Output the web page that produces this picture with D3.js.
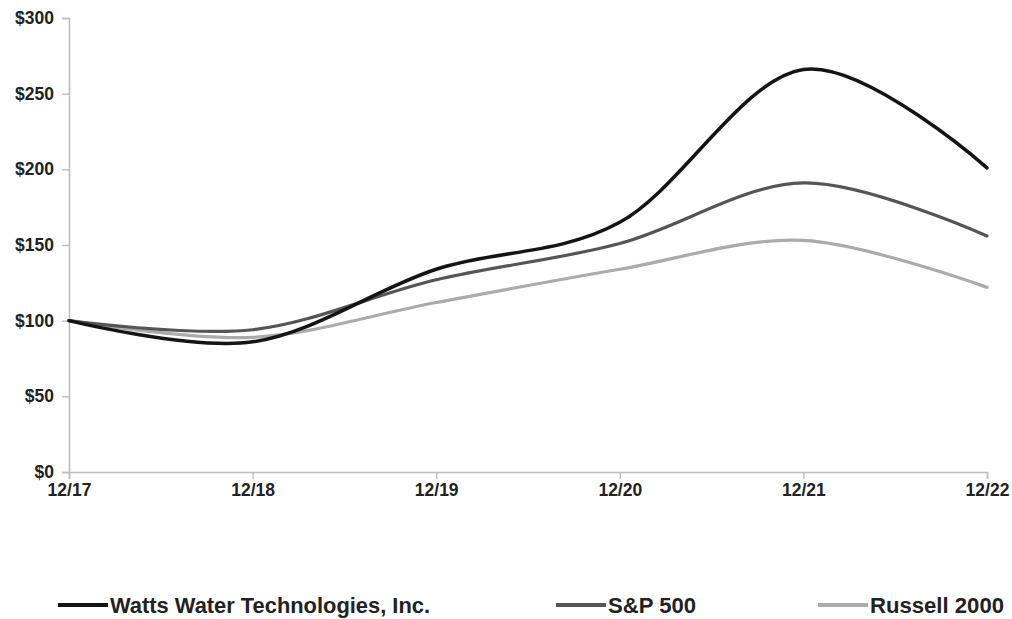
<!DOCTYPE html>
<html>
<head>
<meta charset="utf-8">
<script src="https://cdn.jsdelivr.net/npm/d3@7"></script>
<style>
  body { margin: 0; background: #fff; }
  svg text { font-family: "Liberation Sans", Arial, sans-serif; font-weight: bold; fill: #222; }
</style>
</head>
<body>
<svg id="chart" width="1012" height="619"></svg>
<script>
// values
var years = ["12/17", "12/18", "12/19", "12/20", "12/21", "12/22"];
var watts = [100, 86, 134, 165, 266, 201];
var sp500 = [100, 94, 127, 151, 191, 156];
var russell = [100, 89, 112, 134, 153, 122];
var yTicks = [0, 50, 100, 150, 200, 250, 300];

var seriesNames = ["Watts Water Technologies, Inc.", "S&P 500", "Russell 2000"];
var seriesColors = ["#141414", "#555555", "#ababab"];
var seriesWidths = [3.5, 3.2, 3.2];
var allSeries = [watts, sp500, russell];

var svg = d3.select("#chart");

var x = d3.scalePoint().domain(years).range([69, 987]);
var y = d3.scaleLinear().domain([0, 300]).range([472, 18]);

// axes
var yAxis = d3.axisLeft(y).tickValues(yTicks).tickSize(7).tickPadding(8)
    .tickFormat(function (d) { return "$" + d; });
var xAxis = d3.axisBottom(x).tickSize(7).tickPadding(5);

var gy = svg.append("g").attr("transform", "translate(69,0)").call(yAxis);
var gx = svg.append("g").attr("transform", "translate(0,472)").call(xAxis);

[gy, gx].forEach(function (g) {
    g.select(".domain").attr("stroke", "#bdbdbd").attr("stroke-width", 1.6);
    g.selectAll(".tick line").attr("stroke", "#bdbdbd").attr("stroke-width", 1.4);
    g.selectAll("text").attr("font-size", "17.5px").attr("font-weight", "bold")
        .attr("fill", "#222").style("font-family", "'Liberation Sans', Arial, sans-serif");
});

// draw back to front so Watts sits on top
var line = d3.line()
    .x(function (d, i) { return x(years[i]); })
    .y(function (d) { return y(d); })
    .curve(d3.curveCardinal.tension(0));

for (var s = allSeries.length - 1; s >= 0; s--) {
    svg.append("path")
        .datum(allSeries[s])
        .attr("d", line)
        .attr("fill", "none")
        .attr("stroke", seriesColors[s])
        .attr("stroke-width", seriesWidths[s])
        .attr("stroke-linecap", "round");
}

// legend
var legendX = [58, 556, 818];
var legendW = [320, 88, 134];
var legendY = 605;
seriesNames.forEach(function (name, i) {
    svg.append("line")
        .attr("x1", legendX[i]).attr("x2", legendX[i] + 50)
        .attr("y1", legendY).attr("y2", legendY)
        .attr("stroke", seriesColors[i]).attr("stroke-width", 4);
    svg.append("text")
        .attr("x", legendX[i] + 52).attr("y", legendY + 8)
        .attr("font-size", "22px")
        .attr("textLength", legendW[i])
        .attr("lengthAdjust", "spacingAndGlyphs")
        .text(name);
});
</script>
</body>
</html>
